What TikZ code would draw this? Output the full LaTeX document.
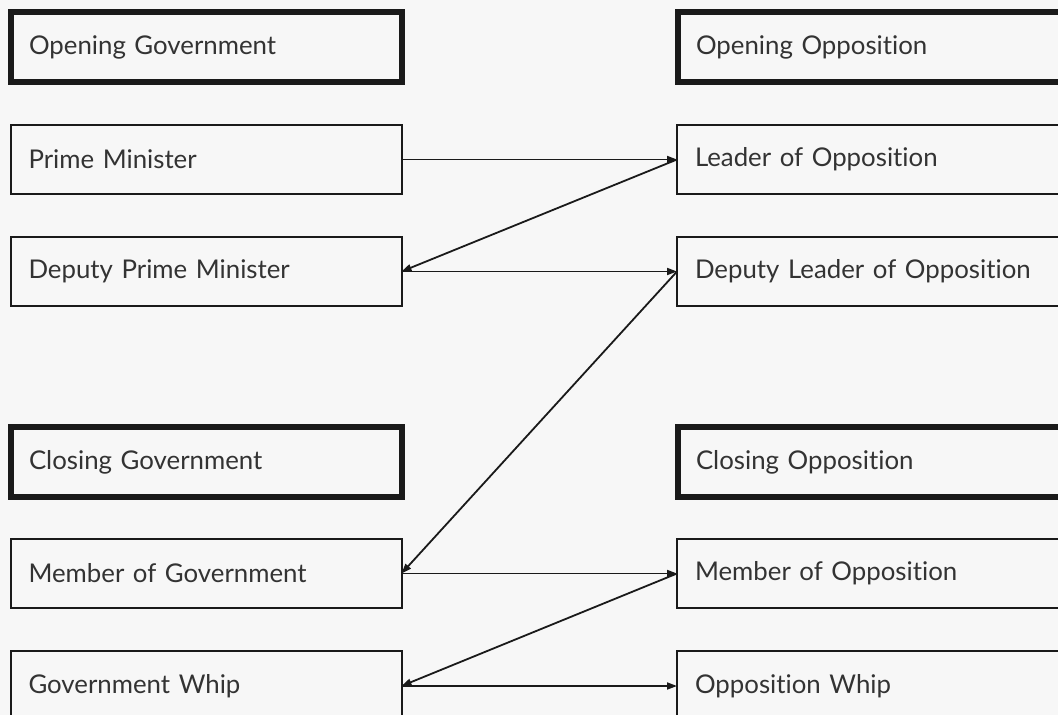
\documentclass[tikz,border=0pt]{standalone}
\usepackage{fontspec}
\setmainfont{Lato}[Ligatures={NoCommon}]
\usetikzlibrary{arrows.meta}
\definecolor{bg}{HTML}{F7F7F7}
\definecolor{ink}{HTML}{1A1A1A}
\definecolor{txt}{HTML}{333333}
\tikzset{
  rolebox/.style={draw=ink, fill=bg, line width=2pt, outer sep=0pt,
    minimum width=391pt, minimum height=69.5pt, text width=355pt, inner xsep=18pt,
    align=left, font=\fontsize{25.8}{30}\selectfont, text=txt},
  teambox/.style={rolebox, line width=6pt},
  link/.style={draw=ink, line width=1.8pt, -{Triangle[length=10pt,width=7pt]}}
}
\begin{document}
\begin{tikzpicture}[x=1pt,y=-1pt]
\fill[bg] (0,0) rectangle (1058,715);
\useasboundingbox (0,0) rectangle (1058,715);
% left column
\node[teambox] (og) at (206.5,47) {Opening Government};
\node[rolebox] (pm) at (206,159.5) {Prime Minister};
\node[rolebox] (dpm) at (206,271.5) {Deputy Prime Minister};
\node[teambox] (cg) at (206.5,462) {Closing Government};
\node[rolebox] (mg) at (206,573.5) {Member of Government};
\node[rolebox] (gw) at (206,686) {Government Whip};
% right column
\node[teambox] (oo) at (873.5,47) {Opening Opposition};
\node[rolebox] (lo) at (872.5,159.5) {Leader of Opposition};
\node[rolebox] (dlo) at (872.5,271.5) {Deputy Leader of Opposition};
\node[teambox] (co) at (873.5,462) {Closing Opposition};
\node[rolebox] (mo) at (872.5,573.5) {Member of Opposition};
\node[rolebox] (ow) at (872.5,686) {Opposition Whip};
% connectors
\draw[link] (pm.east) -- (lo.west);
\draw[link] (lo.west) -- (dpm.east);
\draw[link] (dpm.east) -- (dlo.west);
\draw[link] (dlo.west) -- (mg.east);
\draw[link] (mg.east) -- (mo.west);
\draw[link] (mo.west) -- (gw.east);
\draw[link] (gw.east) -- (ow.west);
\end{tikzpicture}
\end{document}
